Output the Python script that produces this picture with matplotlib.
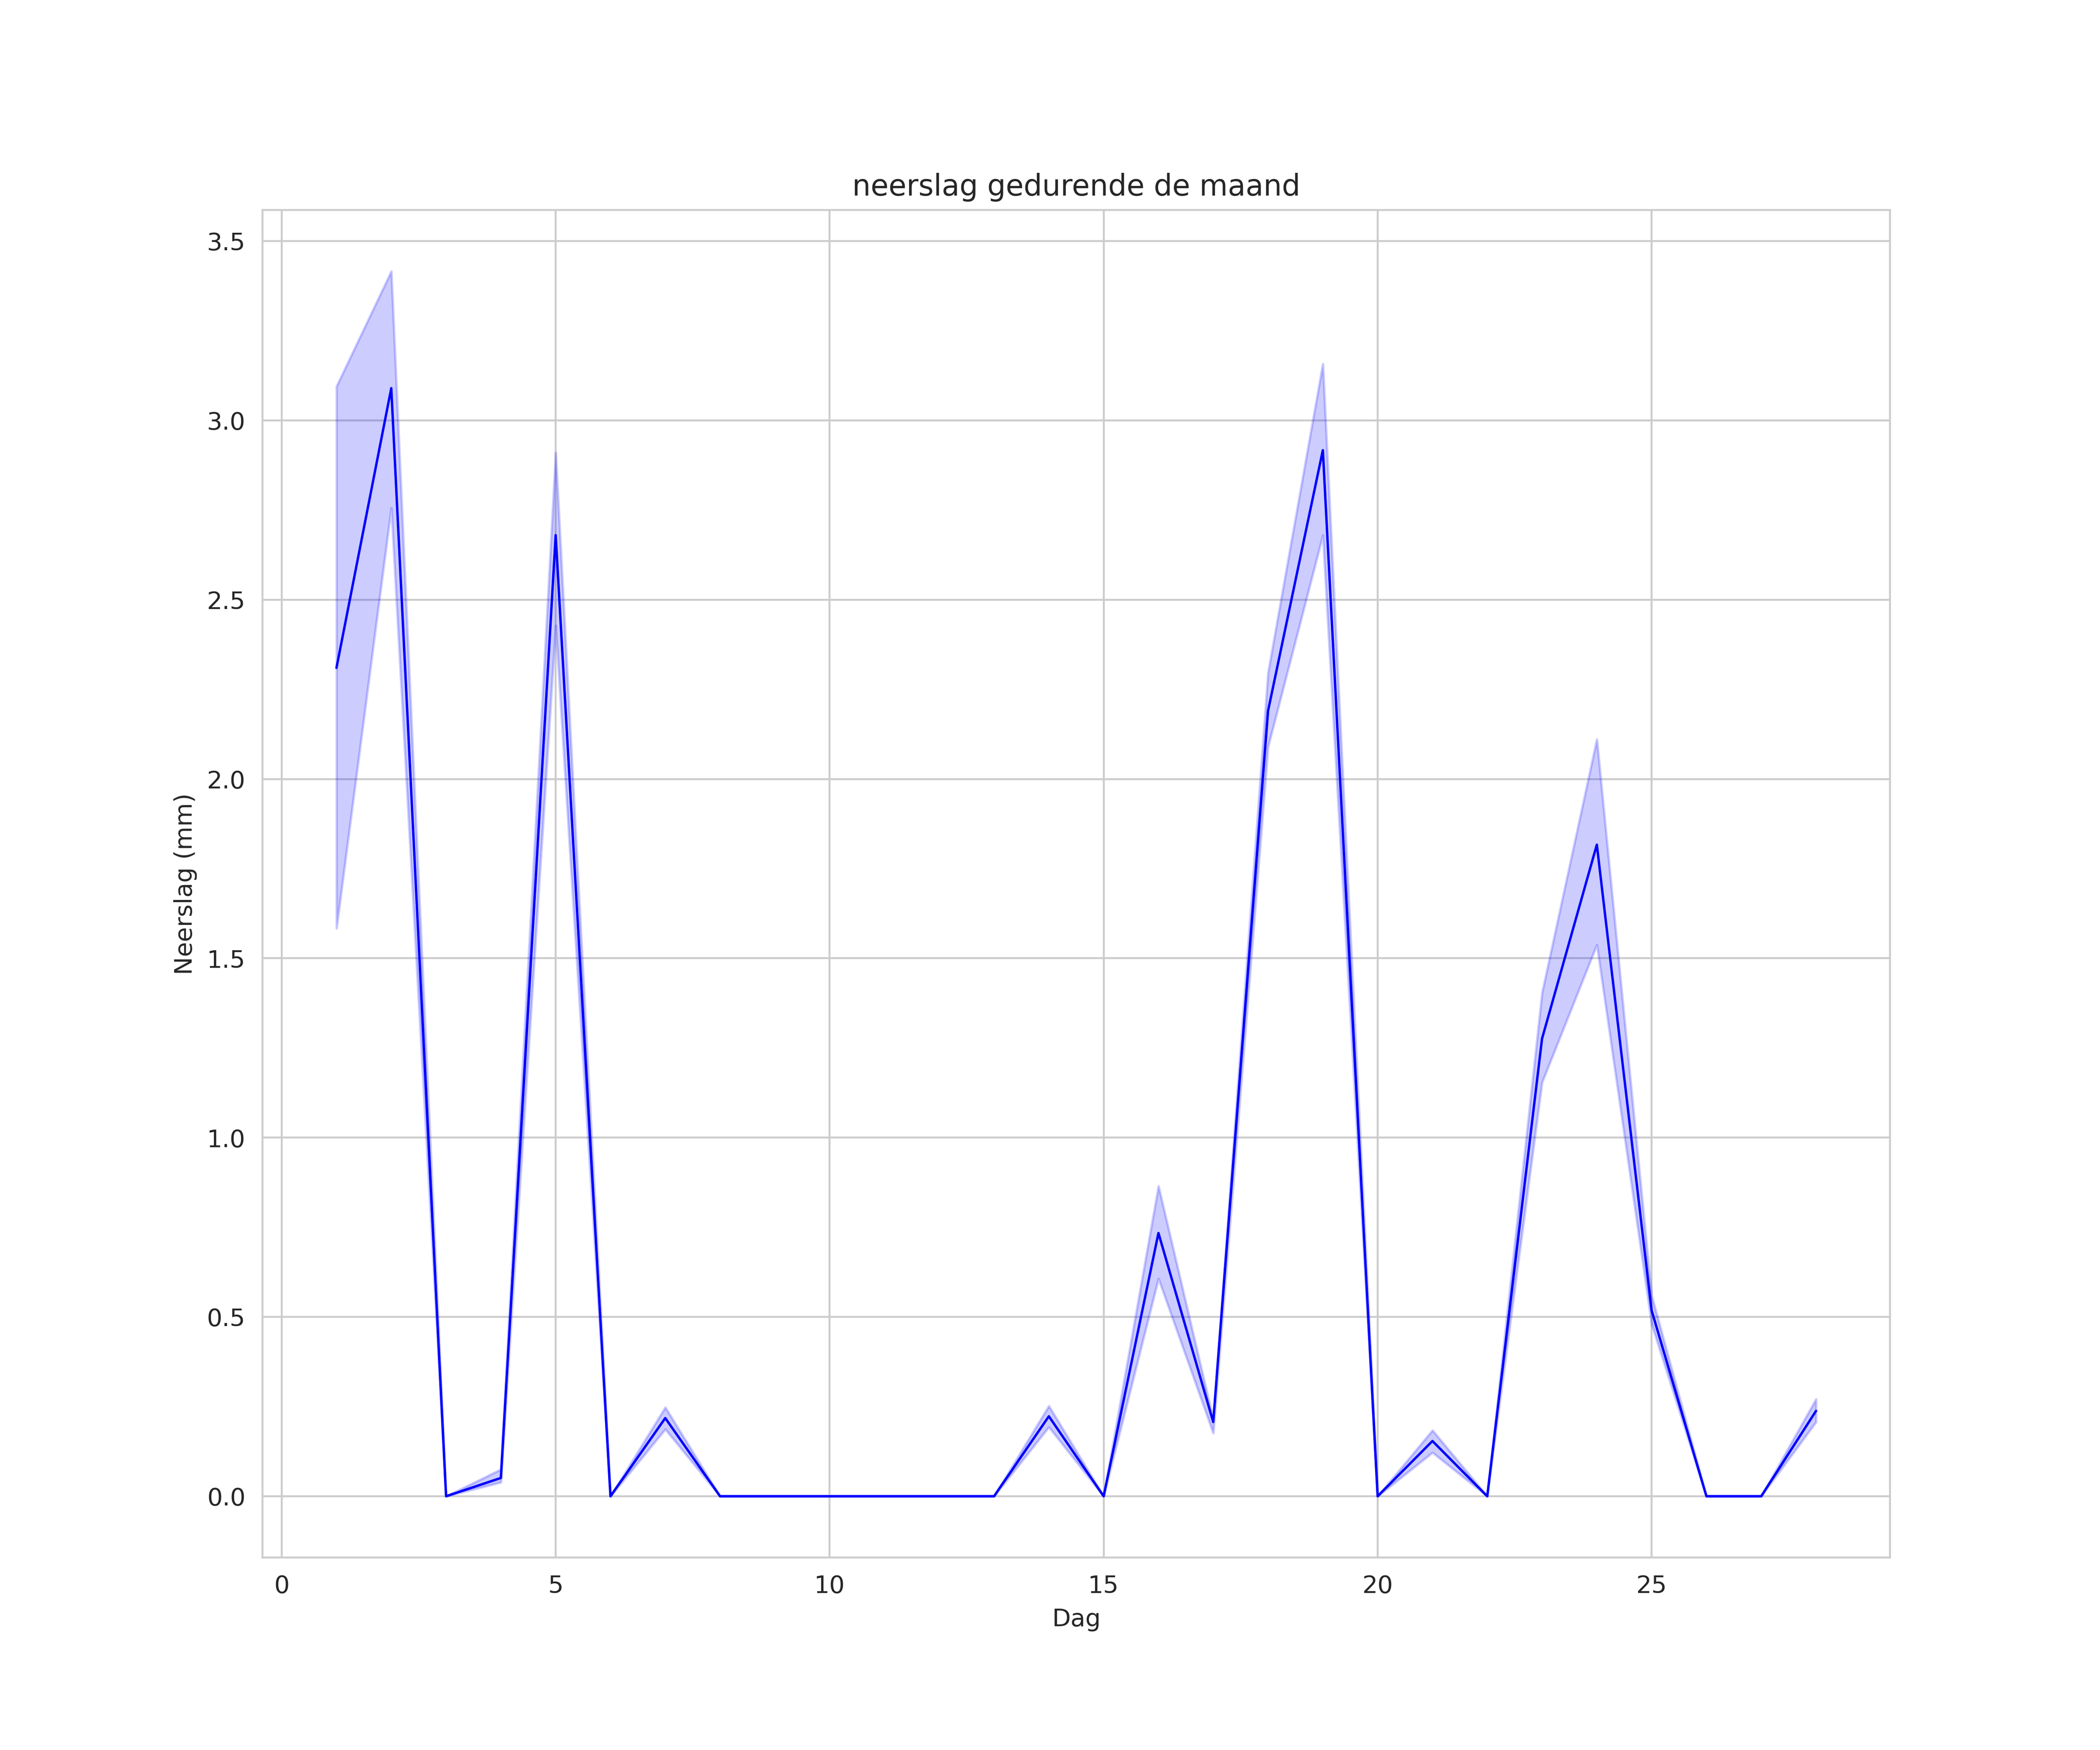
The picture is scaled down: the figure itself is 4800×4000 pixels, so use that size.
import matplotlib
matplotlib.use("Agg")
import matplotlib.pyplot as plt
import seaborn as sns

# dag van de maand en gemiddelde neerslag met betrouwbaarheidsband
dagen = list(range(1, 29))
neerslag = [2.31, 3.09, 0.0, 0.051, 2.68, 0.0, 0.218, 0.0, 0.0, 0.0,
            0.0, 0.0, 0.0, 0.223, 0.0, 0.734, 0.207, 2.19, 2.917, 0.0,
            0.154, 0.0, 1.276, 1.817, 0.518, 0.0, 0.0, 0.238]
ci_laag = [1.584, 2.756, 0.0, 0.039, 2.428, 0.0, 0.187, 0.0, 0.0, 0.0,
           0.0, 0.0, 0.0, 0.193, 0.0, 0.607, 0.176, 2.09, 2.68, 0.0,
           0.122, 0.0, 1.154, 1.538, 0.48, 0.0, 0.0, 0.207]
ci_hoog = [3.095, 3.416, 0.0, 0.075, 2.91, 0.0, 0.248, 0.0, 0.0, 0.0,
           0.0, 0.0, 0.0, 0.252, 0.0, 0.865, 0.215, 2.297, 3.158, 0.0,
           0.184, 0.0, 1.404, 2.111, 0.56, 0.0, 0.0, 0.271]

sns.set_style("whitegrid")

fig, ax = plt.subplots(figsize=(12, 10))
ax.plot(dagen, neerslag, color="blue", linewidth=1)
ax.fill_between(dagen, ci_laag, ci_hoog, color="blue", alpha=0.2)

ax.set_title("neerslag gedurende de maand")
ax.set_xlabel("Dag")
ax.set_ylabel("Neerslag (mm)")

fig.savefig("out.png", dpi=400)
